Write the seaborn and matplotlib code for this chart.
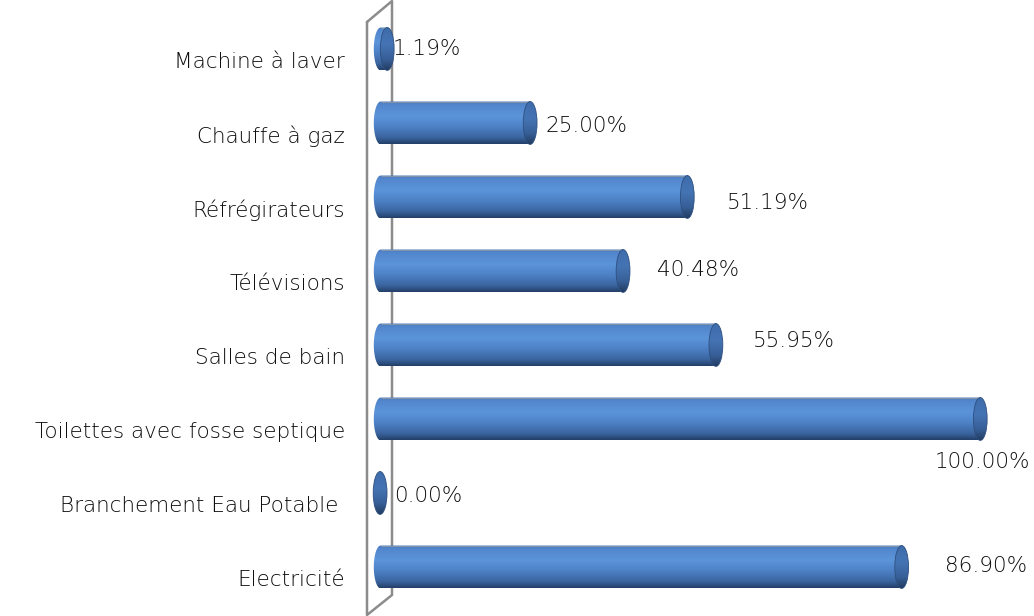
import numpy as np
import matplotlib
matplotlib.use("Agg")
import matplotlib.pyplot as plt
import matplotlib.transforms as mtransforms
from matplotlib.path import Path
from matplotlib.patches import PathPatch, Ellipse
from matplotlib.lines import Line2D
from matplotlib.colors import LinearSegmentedColormap
import seaborn as sns

# ---------------- data ----------------
categories = ["Machine à laver", "Chauffe à gaz", "Réfrégirateurs", "Télévisions",
              "Salles de bain", "Toilettes avec fosse septique",
              "Branchement Eau Potable ", "Electricité"]
values = [1.19, 25.00, 51.19, 40.48, 55.95, 100.00, 0.00, 86.90]
value_labels = ["1.19%", "25.00%", "51.19%", "40.48%", "55.95%", "100.00%", "0.00%", "86.90%"]

# label placement style (pixel offsets from bar end), mimicking the original layout
label_dx = [-1, 8, 33, 27, 30, 43, 7, 36]
label_dy = [0, 3, 6, -1, -4, 43, 3, -1]
label_ha = ["left", "left", "left", "left", "left", "right", "left", "left"]

sns.set_theme(style="white")
plt.rcParams["font.family"] = ["DejaVu Sans"]

W, H, DPI = 1034, 616, 100
fig = plt.figure(figsize=(W / DPI, H / DPI), dpi=DPI)
ax_left_px = 360
ax = fig.add_axes([ax_left_px / W, 0, (W - ax_left_px) / W, 1])

bar_w = 0.58
sns.barplot(x=values, y=categories, orient="h", width=bar_w, color="#4F81BD", ax=ax)
ax.set_xlim(-4.5, 107.8)
ax.set_ylim(7.662, -0.662)
ax.set_axis_off()

body_cmap = LinearSegmentedColormap.from_list(
    "body", [(0, "#4676b8"), (0.08, "#5286cc"), (0.35, "#5c94da"),
             (0.6, "#4d81c5"), (0.85, "#3a649e"), (1, "#223f68")])
cap_cmap = LinearSegmentedColormap.from_list(
    "cap", [(0, "#3e6cab"), (0.4, "#4574b4"), (0.75, "#375f97"), (1, "#223c62")])
grad = np.linspace(0, 1, 256).reshape(-1, 1)

rx = 1.15      # half-width of the end ellipses (data units)
back = 2.2     # bars start slightly behind the wall

# ------------- wall (3D side panel) -------------
def fx(px):
    return (px - ax_left_px) / (W - ax_left_px)

def fy(py):
    return 1 - py / H

wall_x = [fx(367), fx(392), fx(392), fx(367), fx(367)]
wall_y = [fy(22), fy(1), fy(595), fy(615), fy(22)]
ax.add_line(Line2D(wall_x, wall_y, transform=ax.transAxes, color="#8c8c8c",
                   lw=1.8, clip_on=False, zorder=1))

for i, p in enumerate(list(ax.patches)):
    p.set_visible(False)
    y0 = p.get_y()
    h = p.get_height()
    yc = y0 + h / 2
    v = p.get_x() + p.get_width()
    L = p.get_x() - back
    lc = L + rx
    rc = v - rx
    # body path: left half ellipse + rectangle up to cap centre
    th = np.linspace(np.pi / 2, 3 * np.pi / 2, 60)
    xs = list(lc + rx * np.cos(th)) + [rc, rc]
    ys = list(yc + (h / 2) * np.sin(th)) + [yc - h / 2, yc + h / 2]
    verts = list(zip(xs, ys)) + [(xs[0], ys[0])]
    path = Path(verts, closed=True)
    body = PathPatch(path, facecolor="none", edgecolor="none", zorder=3)
    ax.add_patch(body)
    im = ax.imshow(grad, cmap=body_cmap, aspect="auto", origin="upper",
                   extent=(L - 0.1, rc + 0.1, y0 + h, y0), zorder=3,
                   interpolation="bilinear")
    im.set_clip_path(body)
    # thin light line along the top edge
    if rc > lc:
        ax.plot([lc, rc], [y0, y0], color="#7f93ad", lw=0.8, zorder=3.5,
                solid_capstyle="butt")
    # end cap
    cap = Ellipse((rc, yc), 2 * rx, h, facecolor="none", edgecolor="#2e4f80",
                  lw=0.6, zorder=5)
    ax.add_patch(cap)
    im2 = ax.imshow(grad, cmap=cap_cmap, aspect="auto", origin="upper",
                    extent=(rc - rx, rc + rx, y0 + h, y0), zorder=4,
                    interpolation="bilinear")
    im2.set_clip_path(cap)

ax.set_xlim(-4.5, 107.8)
ax.set_ylim(7.662, -0.662)

# ------------- category labels -------------
lab_tr = mtransforms.blended_transform_factory(ax.transAxes, ax.transData) + \
    mtransforms.ScaledTranslation(-15 / DPI, -13 / DPI, fig.dpi_scale_trans)
for i, c in enumerate(categories):
    ax.text(0, i, c, transform=lab_tr, ha="right", va="center",
            fontsize=15.5, color="#0d0d0d", fontweight="light", clip_on=False)

# ------------- value labels -------------
for i, (v, t) in enumerate(zip(values, value_labels)):
    ax.annotate(t, xy=(v, i), xytext=(label_dx[i], -label_dy[i]),
                textcoords="offset pixels", ha=label_ha[i], va="center",
                fontsize=15.5, color="#0d0d0d", fontweight="light",
                annotation_clip=False)

fig.savefig("out.png", dpi=DPI)
